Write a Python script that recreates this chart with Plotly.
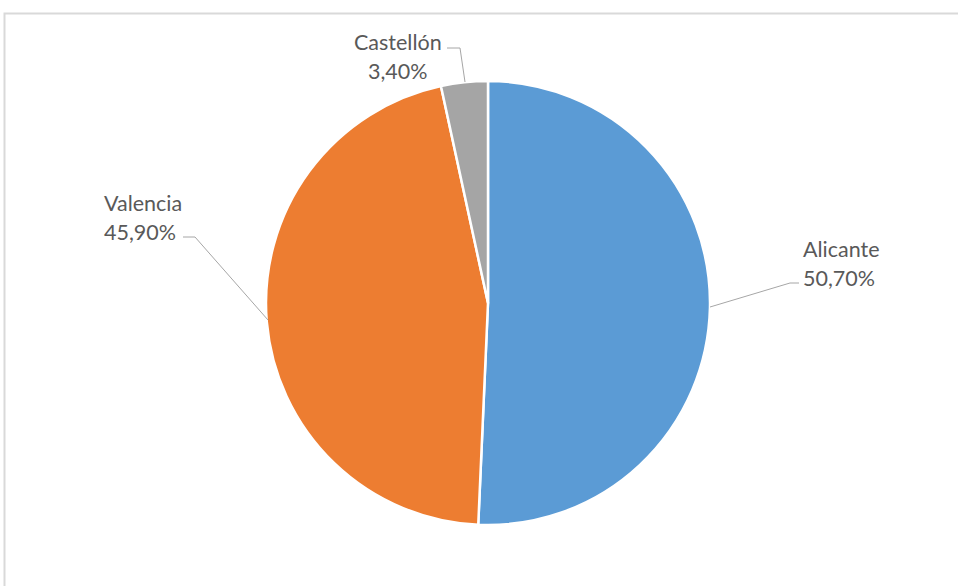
import plotly.graph_objects as go

labels = ["Alicante", "Valencia", "Castellón"]
values = [50.70, 45.90, 3.40]
colors = ["#5B9BD5", "#ED7D31", "#A5A5A5"]

W, H = 958, 586

def px(x):
    return x / W

def py(y):
    return 1 - y / H

fig = go.Figure(go.Pie(
    labels=labels, values=values, sort=False, direction="clockwise", rotation=0,
    marker=dict(colors=colors, line=dict(color="white", width=2.5)),
    textinfo="none", hoverinfo="label+percent", showlegend=False,
    domain=dict(x=[px(266), px(710)], y=[py(525), py(81)]),
))

def fmt(v):
    return f"{v:.2f}".replace(".", ",") + "%"

# label placement: (x, anchor, y line1, y line2) in pixels
label_pos = {
    "Alicante": (801, "left", 249, 278),
    "Valencia": (102, "left", 203, 232),
    "Castellón": (398, "center", 42, 71),
}
leaders = {
    "Alicante": [(710, 307), (790, 283), (799, 283)],
    "Valencia": [(183, 237), (195, 237), (268, 320)],
    "Castellón": [(447, 48), (460, 48), (465, 82)],
}

font = dict(family="Lato, Open Sans, sans-serif", size=21.5, color="#595959")
for lab, v in zip(labels, values):
    x, anc, y1, y2 = label_pos[lab]
    for txt, yy in ((lab, y1), (fmt(v), y2)):
        fig.add_annotation(x=px(x), y=py(yy), xref="paper", yref="paper",
                           text=txt, showarrow=False, font=font,
                           xanchor=anc, yanchor="middle")
    pts = leaders[lab]
    path = "M " + " L ".join(f"{px(a)},{py(b)}" for a, b in pts)
    fig.add_shape(type="path", path=path, xref="paper", yref="paper",
                  line=dict(color="#A6A6A6", width=1))

# chart frame
fig.add_shape(type="rect", xref="paper", yref="paper",
              x0=px(4.5), y0=py(600), x1=px(1000), y1=py(13.5),
              line=dict(color="#D9D9D9", width=2))

fig.update_layout(width=W, height=H, margin=dict(l=0, r=0, t=0, b=0),
                  paper_bgcolor="white", plot_bgcolor="white")
fig.write_html("out.html", config={"displayModeBar": False},
               post_script="document.body.style.margin='0';document.body.style.overflow='hidden';")
